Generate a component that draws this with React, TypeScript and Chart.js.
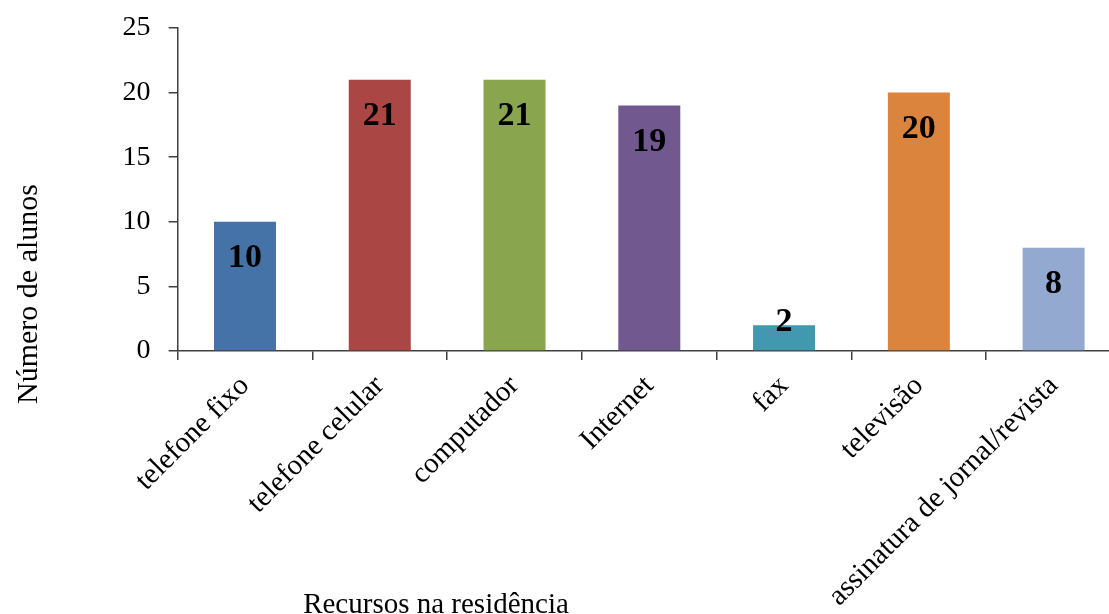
import React, { useEffect, useRef } from "react";
import { Chart, registerables } from "chart.js";

Chart.register(...registerables);

const categories = [
  "telefone fixo",
  "telefone celular",
  "computador",
  "Internet",
  "fax",
  "televisão",
  "assinatura de jornal/revista",
];
const values = [10, 21, 21, 19, 2, 20, 8];
const barColors = ["#4572A7", "#AA4643", "#89A54E", "#71588F", "#4198AF", "#DB843D", "#93A9CF"];
const yTicks = [0, 5, 10, 15, 20, 25];
const yTitle = "Número de alunos";
const xTitle = "Recursos na residência";

const SERIF = "'Liberation Serif', 'Times New Roman', serif";
const CW = 1130;
const CH = 614;

const labelsPlugin = {
  id: "customLabels",
  afterDatasetsDraw(chart: any) {
    const ctx = chart.ctx;
    const meta = chart.getDatasetMeta(0);
    ctx.save();
    ctx.font = `bold 34px ${SERIF}`;
    ctx.fillStyle = "#000";
    ctx.textAlign = "center";
    ctx.textBaseline = "alphabetic";
    meta.data.forEach((bar: any, i: number) => {
      const yb = Math.min(bar.y + 45, bar.base - 19);
      ctx.fillText(String(values[i]), bar.x, yb);
    });
    ctx.restore();
  },
  afterDraw(chart: any) {
    const ctx = chart.ctx;
    ctx.save();
    ctx.fillStyle = "#000";
    ctx.textAlign = "center";
    ctx.textBaseline = "alphabetic";
    ctx.font = `29px ${SERIF}`;
    ctx.fillText(xTitle, 436, 613);
    ctx.font = `30px ${SERIF}`;
    ctx.translate(37, 294);
    ctx.rotate(-Math.PI / 2);
    ctx.fillText(yTitle, 0, 0);
    ctx.restore();
  },
};

export default function App() {
  const ref = useRef<HTMLCanvasElement>(null);
  useEffect(() => {
    if (!ref.current) return;
    const chart = new Chart(ref.current, {
      type: "bar",
      data: {
        labels: categories,
        datasets: [
          {
            data: values,
            backgroundColor: barColors,
            borderWidth: 0,
            barPercentage: 0.46,
            categoryPercentage: 1,
          },
        ],
      },
      options: {
        responsive: false,
        animation: false,
        devicePixelRatio: 1,
        layout: { padding: { top: 28, right: 9, left: 0, bottom: 0 } },
        plugins: { legend: { display: false }, tooltip: { enabled: false } },
        scales: {
          x: {
            offset: true,
            grid: {
              offset: true,
              drawOnChartArea: false,
              drawTicks: true,
              tickLength: 9,
              color: "#404040",
              lineWidth: 1.5,
            },
            border: { display: true, color: "#404040", width: 1.5 },
            ticks: {
              color: "#000",
              font: { family: SERIF, size: 29 },
              minRotation: 45,
              maxRotation: 45,
              padding: 9,
              autoSkip: false,
            },
            afterFit(scale: any) {
              scale.height = CH - 351;
            },
          },
          y: {
            min: 0,
            max: 25,
            afterBuildTicks(scale: any) {
              scale.ticks = yTicks.map((v) => ({ value: v }));
            },
            grid: {
              drawOnChartArea: false,
              drawTicks: true,
              tickLength: 9,
              color: "#404040",
              lineWidth: 1.5,
            },
            border: { display: true, color: "#404040", width: 1.5 },
            ticks: {
              color: "#000",
              font: { family: SERIF, size: 28, lineHeight: 0.5 },
              padding: 18,
            },
            afterFit(scale: any) {
              scale.width = 177.6;
            },
          },
        },
      },
      plugins: [labelsPlugin],
    });
    return () => chart.destroy();
  }, []);
  return (
    <div
      style={{
        position: "fixed",
        left: 0,
        top: 0,
        width: 1109,
        height: 614,
        overflow: "hidden",
        background: "#fff",
      }}
    >
      <canvas ref={ref} width={CW} height={CH} style={{ width: CW, height: CH, display: "block" }} />
    </div>
  );
}
